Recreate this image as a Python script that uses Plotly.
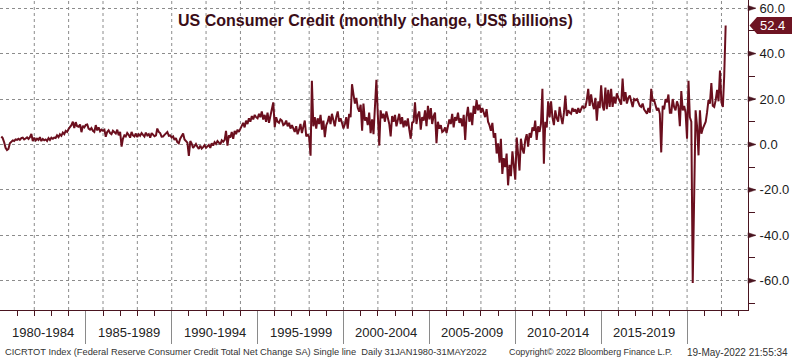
import plotly.graph_objects as go
import pandas as pd

# ---------------- data (monthly change, US$ billions) ----------------
chg_1980_84 = [
    3.5, 2.8, 1.0, -1.5, -2.5, -2.0, 0.5, 1.2, 1.8, 1.5, 2.2, 2.0,
    2.5, 2.0, 2.8, 3.0, 2.2, 2.6, 3.1, 2.4, 3.2, 4.6, 1.5, 3.0,
    1.8, 2.5, 2.0, 3.2, 1.5, 2.4, 1.8, 2.2, 1.5, 2.8, 2.0, 3.0,
    2.5, 3.0, 2.8, 4.0, 3.2, 4.5, 3.8, 5.2, 4.5, 6.0, 5.5, 6.8,
    7.5, 8.5, 10.0, 7.2, 9.8, 8.0, 7.8, 8.8, 5.4, 8.2, 7.5, 8.6,
]
chg_1985_89 = [
    8.8, 7.0, 6.5, 7.2, 6.0, 5.5, 8.5, 6.2, 7.5, 5.8, 6.5, 6.0,
    6.5, 3.4, 5.5, 6.2, 5.0, 4.5, 6.0, 5.5, 4.8, 6.5, 4.0, 5.5,
    -1.0, 2.5, 4.0, 3.5, 5.0, 4.2, 3.0, 5.5, 4.0, 3.5, 4.8, 3.2,
    4.5, 3.8, 5.0, 4.2, 3.5, 5.2, 4.0, 4.5, 3.0, 5.0, 4.2, 3.6,
    4.0, 7.0, 5.5, 5.0, 3.4, 3.5, 4.2, 4.8, 5.5, 3.8, 4.0, 3.0,
]
chg_1990_94 = [
    3.5, 2.0, 2.8, 1.0, 0.5, 2.5, 3.8, 4.8, 2.2, 1.5, 0.8, -5.0,
    1.5, 0.5, -1.5, -0.8, 0.2, -1.0, -2.0, -0.5, -1.8, -1.2, -0.3, -1.5,
    -1.0, -0.2, -1.5, 0.5, -0.5, 1.0, 0.2, 1.5, 0.8, 0.0, 1.8, 1.2,
    2.0, 6.0, -0.5, 4.0, 3.0, 5.5, 2.5, 6.0, 4.5, 6.5, 5.5, 7.0,
    8.0, 9.5, 7.5, 10.5, 9.0, 11.5, 10.0, 12.5, 11.0, 13.0, 12.0, 11.5,
]
chg_1995_99 = [
    13.5, 12.0, 14.5, 11.0, 13.0, 10.0, 14.0, 9.5, 12.5, 15.0, 18.5, 7.6,
    12.0, 10.0, 9.5, 11.0, 10.5, 8.5, 9.0, 10.5, 8.0, 9.5, 7.0, 8.5,
    7.0, 5.5, 8.0, 4.5, 6.5, 9.0, 5.0, 7.5, 10.5, 3.5, 4.5, 3.2,
    -5.0, 28.0, 8.0, 12.0, 7.0, 11.5, 9.0, 13.0, 6.5, 10.5, 3.2, 8.5,
    10.0, 12.5, 9.0, 13.5, 11.0, 8.0, 12.0, 14.5, 10.0, 11.5, 9.5, 7.0,
]
chg_2000_04 = [
    9.0, 12.0, 7.0, 13.5, 12.0, 26.5, 22.0, 18.0, 20.5, 16.0, 14.5, 17.5,
    6.0, 18.0, 10.5, 12.0, 8.5, 14.0, 5.0, 11.0, 4.5, 16.0, 28.5, 13.0,
    -0.5, 15.0, 11.5, 13.5, 10.0, 14.5, 12.0, 9.0, 3.5, 12.5, 10.0, 13.0,
    8.0, 11.0, 13.5, 9.0, 12.0, 7.5, 10.5, 8.0, 11.5, 6.5, 2.5, 9.5,
    10.0, 18.5, 9.0, 13.0, 14.5, 6.5, 12.0, 10.5, 15.0, 8.0, 17.0, 11.0,
]
chg_2005_09 = [
    16.0, 9.0, 12.5, 14.0, 0.5, 10.0, 7.0, 8.5, 5.5, 6.0, 7.5, 5.0,
    8.5, 11.0, 9.0, 13.5, 7.5, 12.0, 10.5, 14.0, 9.5, 11.5, 8.0, 13.0,
    2.0, 12.0, 16.5, 10.0, 14.0, 8.5, 17.0, 13.5, 19.5, 15.0, 17.5, 14.0,
    16.0, 14.5, 12.0, 15.5, 10.0, 8.5, 6.0, 9.5, 3.0, 5.0, -4.0, 0.5,
    -8.0, 2.5, -13.0, -6.0, -10.0, -4.0, -18.0, -9.0, -14.0, -3.0, -8.0, -15.5,
]
chg_2010_14 = [
    3.0, -5.0, -11.5, 2.5, -2.0, -4.0, 2.0, 4.5, -1.0, 5.0, 3.0, 7.5,
    6.0, 10.5, 2.0, 8.0, 5.5, 9.0, 24.5, -8.5, 10.0, 7.5, 19.0, 12.0,
    19.0, 12.0, 8.5, 15.0, 11.5, 10.0, 16.5, 12.0, 9.0, 14.0, 21.5, 12.5,
    15.0, 14.0, 13.5, 16.0, 14.5, 15.5, 13.5, 16.0, 14.0, 15.5, 17.0, 16.0,
    16.5, 19.5, 24.5, 17.0, 22.0, 18.0, 15.5, 20.5, 10.5, 19.0, 16.0, 26.0,
]
chg_2015_19 = [
    17.0, 15.0, 25.0, 15.5, 24.0, 16.5, 24.5, 16.5, 21.0, 18.0, 22.5, 20.5,
    18.5, 17.5, 29.0, 19.0, 23.0, 18.0, 20.5, 21.5, 19.0, 16.5, 20.0, 19.5,
    20.0, 18.5, 17.0, 16.5, 18.0, 15.5, 14.5, 13.5, 16.0, 14.0, 24.5, 19.0,
    19.5, 17.0, 15.0, 16.0, 13.5, -3.5, 17.0, 15.5, 20.0, 18.5, 22.0, 14.0,
    14.0, 20.0, 16.5, 15.0, 19.0, 17.0, 8.0, 23.5, 15.0, 17.0, 14.0, 2.5,
]
chg_2020_22 = [
    28.0, 12.0, 10.0, -61.0, -20.0, 15.0, 8.0, -4.8, 15.0, 4.7, 7.0, 9.0,
    10.0, 14.0, 19.5, 18.0, 27.0, 17.0, 16.5, 19.5, 24.0, 19.0, 32.5, 18.5,
    16.5, 30.0, 52.4,
]

group_labels = ["1980-1984", "1985-1989", "1990-1994", "1995-1999",
                "2000-2004", "2005-2009", "2010-2014", "2015-2019"]
group_start_years = [1980, 1985, 1990, 1995, 2000, 2005, 2010, 2015]
separator_years = [1985, 1990, 1995, 2000, 2005, 2010, 2015, 2020]
grid_years = list(range(1982, 2024, 2))
y_tick_vals = [-60, -40, -20, 0, 20, 40, 60]

title_text = "US Consumer Credit (monthly change, US$ billions)"
footer_left = ("CICRTOT Index (Federal Reserve Consumer Credit Total Net Change SA) "
               "Single line  Daily 31JAN1980-31MAY2022")
footer_mid = "Copyright\u00a9 2022 Bloomberg Finance L.P."
footer_right = "19-May-2022 21:55:34"

# ---------------- build ----------------
values = (chg_1980_84 + chg_1985_89 + chg_1990_94 + chg_1995_99 + chg_2000_04
          + chg_2005_09 + chg_2010_14 + chg_2015_19 + chg_2020_22)
dates = pd.date_range("1980-01-01", periods=len(values), freq="MS") + pd.offsets.MonthEnd(0)

Y_MIN, Y_MAX = -72.9, 63.6
PLOT_W, PLOT_H = 748, 310
MAROON = "#6b0f1e"
AXIS = "#4a1520"
GRID = "#8c8c8c"
FONT = "Liberation Sans"


def ypaper(v):
    return (v - Y_MIN) / (Y_MAX - Y_MIN)


fig = go.Figure()
fig.add_trace(go.Scatter(x=dates, y=values, mode="lines",
                         line=dict(color=MAROON, width=2), hoverinfo="skip",
                         showlegend=False))

shapes = []
for yr in grid_years:
    shapes.append(dict(type="line", xref="x", yref="paper",
                       x0=f"{yr}-01-01", x1=f"{yr}-01-01", y0=0, y1=1,
                       line=dict(color=GRID, width=1, dash="dot"), layer="below"))

for v in y_tick_vals:
    yp = ypaper(v)
    dy = 2.6 / PLOT_H
    dx = 8.0 / PLOT_W
    shapes.append(dict(type="path", xref="paper", yref="paper",
                       path=f"M 1.0 {yp - dy} L {1.0 + dx} {yp} L 1.0 {yp + dy} Z",
                       fillcolor=AXIS, line=dict(color=AXIS, width=0.5)))

last_v = values[-1]
yl = ypaper(last_v)
hh = 8.5 / PLOT_H
x_tip = 1.0 + 1.5 / PLOT_W
x_body = 1.0 + 9.0 / PLOT_W
x_end = 1.0 + 44.0 / PLOT_W
shapes.append(dict(type="path", xref="paper", yref="paper",
                   path=(f"M {x_tip} {yl} L {x_body} {yl + hh} L {x_end} {yl + hh} "
                         f"L {x_end} {yl - hh} L {x_body} {yl - hh} Z"),
                   fillcolor="#6e1422", line=dict(width=0)))

annotations = [
    dict(text=f"<b>{title_text}</b>", xref="paper", yref="paper",
         x=0.502, y=1, yshift=-20, xanchor="center", yanchor="middle",
         showarrow=False, font=dict(family=FONT, size=16, color="#3b0d17")),
    dict(text=f"{last_v:.1f}", xref="paper", yref="paper",
         x=x_body + 1.0 / PLOT_W, y=yl, xanchor="left", yanchor="middle",
         showarrow=False, font=dict(family=FONT, size=13, color="white")),
    dict(text=footer_left, xref="paper", yref="paper", x=3 / PLOT_W, y=0,
         yshift=-42, xanchor="left", yanchor="middle", showarrow=False,
         font=dict(family=FONT, size=9.3, color="#333333")),
    dict(text=footer_mid, xref="paper", yref="paper", x=507 / PLOT_W, y=0,
         yshift=-42, xanchor="left", yanchor="middle", showarrow=False,
         font=dict(family=FONT, size=8.9, color="#333333")),
    dict(text=footer_right, xref="paper", yref="paper", x=790 / PLOT_W, y=0,
         yshift=-42, xanchor="right", yanchor="middle", showarrow=False,
         font=dict(family=FONT, size=10, color="#333333")),
]
for lab, y0 in zip(group_labels, group_start_years):
    annotations.append(dict(text=lab, xref="x", yref="paper",
                            x=f"{y0 + 2}-07-02", y=0, yshift=-22,
                            xanchor="center", yanchor="middle", showarrow=False,
                            font=dict(family=FONT, size=13, color="#222222")))

fig.update_layout(
    width=793, height=359,
    margin=dict(l=0, r=45, t=0, b=49),
    paper_bgcolor="white", plot_bgcolor="white",
    showlegend=False,
    shapes=shapes, annotations=annotations,
    xaxis=dict(
        type="date", range=["1980-01-03", "2023-07-19"],
        tickvals=[f"{y}-01-01" for y in separator_years],
        ticks="outside", ticklen=33, tickcolor="#8a8a8a", tickwidth=1,
        showticklabels=False, showgrid=False, zeroline=False,
        showline=True, linecolor=AXIS, linewidth=1,
        minor=dict(ticks="outside", ticklen=5, tickcolor=AXIS, tickwidth=1,
                   dtick="M12", tick0="1980-01-01", showgrid=False),
    ),
    yaxis=dict(
        side="right", range=[Y_MIN, Y_MAX],
        tickvals=y_tick_vals, ticktext=[f"{v:.1f}" for v in y_tick_vals],
        ticks="outside", ticklen=8, tickcolor="rgba(0,0,0,0)",
        tickfont=dict(family=FONT, size=13, color="#1a1a1a"),
        showgrid=True, gridcolor=GRID, griddash="dot", gridwidth=1,
        zeroline=False, showline=True, linecolor=AXIS, linewidth=1,
        minor=dict(ticks="outside", ticklen=6, tickcolor=AXIS, tickwidth=1,
                   dtick=10, tick0=0, showgrid=False),
    ),
)

fig.write_html("out.html", config={"displayModeBar": False},
               post_script="document.body.style.margin='0';")
